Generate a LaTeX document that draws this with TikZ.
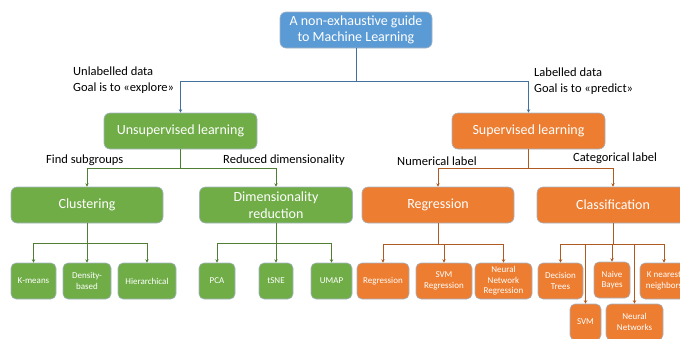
\documentclass[tikz,border=0pt]{standalone}
\usepackage{fontspec}
\setmainfont{Carlito}
\usetikzlibrary{arrows.meta,calc}
\definecolor{mlblue}{HTML}{5B9BD5}
\definecolor{mlgreen}{HTML}{70AD47}
\definecolor{mlorange}{HTML}{ED7D31}
\definecolor{lnblue}{HTML}{41719C}
\definecolor{lngreen}{HTML}{507E32}
\definecolor{lnorange}{HTML}{AE5A21}
\definecolor{edgec}{RGB}{165,180,195}
\tikzset{
  box/.style={rectangle, rounded corners=6pt, draw=edgec, line width=0.6pt,
    text=white, align=center, inner sep=0pt, minimum height=36pt},
  bigbox/.style={box, font=\fontsize{14}{16.5}\selectfont},
  leaf/.style={box, rounded corners=5pt, font=\fontsize{9}{10.5}\selectfont},
  bluebox/.style={fill=mlblue},
  greenbox/.style={fill=mlgreen},
  orangebox/.style={fill=mlorange},
  conn/.style={line width=0.8pt, -{Stealth[length=3.5pt,width=3.5pt]}},
  bconn/.style={conn, draw=lnblue},
  gconn/.style={conn, draw=lngreen},
  oconn/.style={conn, draw=lnorange},
  lbl/.style={anchor=west, align=left, inner sep=0pt, text=black, font=\fontsize{12.5}{16}\selectfont},
}
\begin{document}
\begin{tikzpicture}[x=1pt,y=-1pt]
\useasboundingbox (0,0) rectangle (680,338);
\clip (0,0) rectangle (680,338);
% top
\node[bigbox,bluebox,minimum width=152pt] (top) at (356,30) {A non-exhaustive guide\\to Machine Learning};
% level 1
\node[bigbox,greenbox,minimum width=153pt] (unsup) at (180.5,131) {Unsupervised learning};
\node[bigbox,orangebox,minimum width=153pt] (sup) at (528.5,131) {Supervised learning};
% level 2
\node[bigbox,greenbox,minimum width=152pt] (clus) at (87,205) {Clustering};
\node[bigbox,greenbox,minimum width=153pt,font=\fontsize{14}{17}\selectfont] (dimr) at (276,205) {Dimensionality\\reduction};
\node[bigbox,orangebox,minimum width=152pt] (regr) at (438,205) {Regression};
\node[bigbox,orangebox,minimum width=152pt] (clas) at (613,205) {Classification};
% leaves clustering
\node[leaf,greenbox,minimum width=45pt] (km) at (33.5,281) {K-means};
\node[leaf,greenbox,minimum width=48pt] (dens) at (87,281) {Density-\\based};
\node[leaf,greenbox,minimum width=58pt] (hier) at (147,281) {Hierarchical};
% leaves dim red
\node[leaf,greenbox,minimum width=36pt] (pca) at (217,281) {PCA};
\node[leaf,greenbox,minimum width=34pt] (tsne) at (276,281) {tSNE};
\node[leaf,greenbox,minimum width=41pt] (umap) at (331.5,281) {UMAP};
% leaves regression
\node[leaf,orangebox,minimum width=52pt] (lreg) at (383,281) {Regression};
\node[leaf,orangebox,minimum width=56pt] (svmr) at (444,281) {SVM\\Regression};
\node[leaf,orangebox,minimum width=57pt] (nnr) at (503.5,281) {Neural\\Network\\Regression};
% leaves classification
\node[leaf,orangebox,minimum width=45pt] (dt) at (560.5,281) {Decision\\Trees};
\node[leaf,orangebox,minimum width=36pt] (nb) at (612,280) {Naive\\Bayes};
\node[leaf,orangebox,minimum width=48pt] (knn) at (664,281) {K nearest\\neighbors};
\node[leaf,orangebox,minimum width=31pt] (svm) at (585.5,322) {SVM};
\node[leaf,orangebox,minimum width=57pt] (nn) at (634.5,322) {Neural\\Networks};
% labels
\node[lbl] (l1) at (73,80) {Unlabelled data\\Goal is to «explore»};
\node[lbl] (l2) at (534,81) {Labelled data\\Goal is to «predict»};
\node[lbl] (l3) at (46,160) {Find subgroups};
\node[lbl] (l4) at (223,160) {Reduced dimensionality};
\node[lbl] (l5) at (397,161) {Numerical label};
\node[lbl] (l6) at (573,158) {Categorical label};
% connectors top
\coordinate (j0) at (356,81);
\draw[bconn] (top.south) -- (j0) -| (unsup.north);
\draw[bconn] (j0) -| (sup.north);
% level 1 -> 2
\coordinate (j1) at (180.5,168);
\draw[gconn] (unsup.south) -- (j1) -| (clus.north);
\draw[gconn] (j1) -| (dimr.north);
\coordinate (j2) at (528.5,168);
\draw[oconn] (sup.south) -- (j2) -| (regr.north);
\draw[oconn] (j2) -| (clas.north);
% clustering leaves
\coordinate (j3) at (87,243);
\draw[gconn] (clus.south) -- (j3) -| (km.north);
\draw[gconn] (j3) -- (dens.north);
\draw[gconn] (j3) -| (hier.north);
\coordinate (j4) at (276,243);
\draw[gconn] (dimr.south) -- (j4) -| (pca.north);
\draw[gconn] (j4) -- (tsne.north);
\draw[gconn] (j4) -| (umap.north);
\coordinate (j5) at (438,244);
\draw[oconn] (regr.south) -- (j5) -| (lreg.north);
\draw[oconn] (j5) -| (svmr.north);
\draw[oconn] (j5) -| (nnr.north);
\coordinate (j6) at (613,244);
\draw[oconn] (clas.south) -- (j6) -| (dt.north);
\draw[oconn] (j6) -| (knn.north);
\draw[oconn] (j6) -| (nb.north);
\draw[oconn] (j6) -| (svm.north);
\draw[oconn] (j6) -| (nn.north);
\end{tikzpicture}
\end{document}
